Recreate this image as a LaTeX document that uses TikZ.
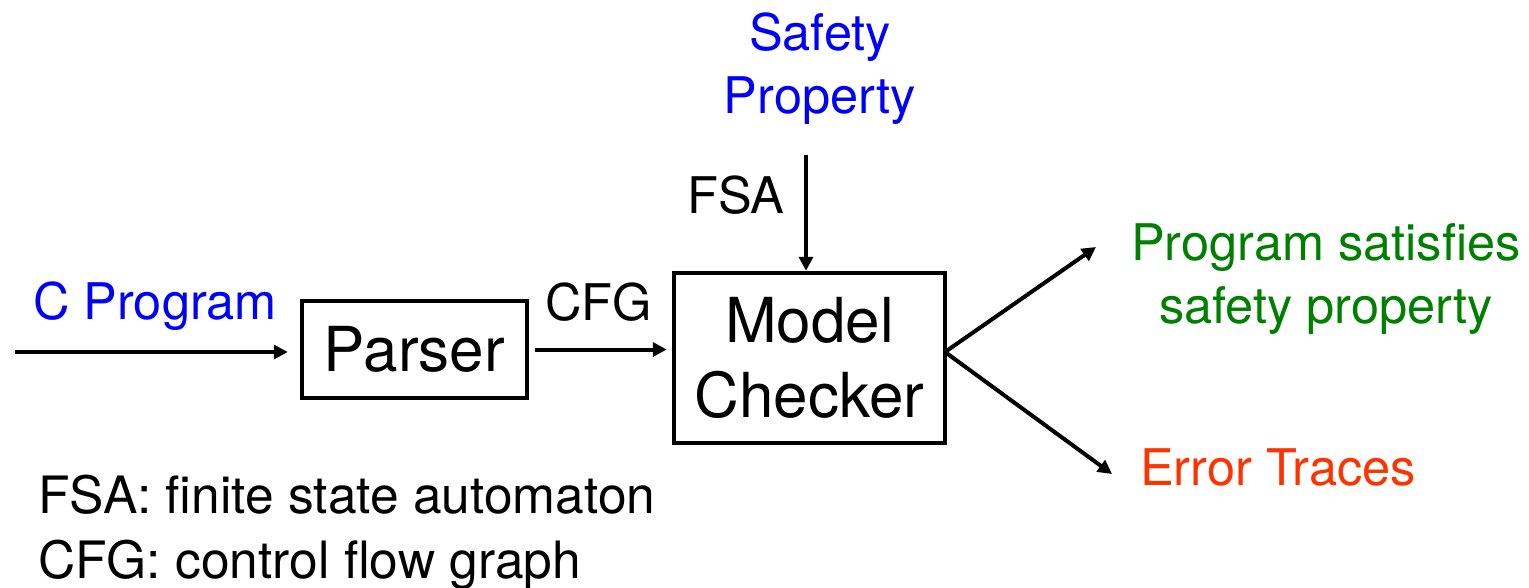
\documentclass[tikz,border=0pt]{standalone}
\usepackage{fontspec}
\setmainfont{TeX Gyre Heros}
\usetikzlibrary{arrows.meta}

\definecolor{inblue}{RGB}{0,0,255}
\definecolor{okgreen}{RGB}{0,128,0}
\definecolor{errred}{RGB}{255,51,0}

\tikzset{
  label text/.style={inner sep=0pt, font=\fontsize{50.5}{63}\selectfont},
  legend text/.style={inner sep=0pt, font=\fontsize{51.5}{63}\selectfont},
  stagebox/.style={draw, line width=4.5pt, inner sep=0pt,
    font=\fontsize{62}{75}\selectfont, align=center},
  flow/.style={line width=4pt, -{Triangle[length=14pt,width=14pt]}},
}

\begin{document}
\begin{tikzpicture}[x=1pt,y=-1pt]
  \useasboundingbox (0,0) rectangle (1529,587);

  % processing stages
  \node[stagebox, minimum width=225pt, minimum height=97pt] (parser) at (414.5,349.5) {Parser};
  \node[stagebox, minimum width=271pt, minimum height=170pt] (checker) at (809.5,358) {Model\\Checker};

  % inputs (base anchor of a two-line node sits on its last line)
  \node[label text, anchor=base west, text=inblue] (cprog) at (33,319) {C Program};
  \node[label text, anchor=base, align=center, text=inblue] (safety) at (820,113) {Safety\\Property};

  % edge labels
  \node[label text, anchor=base west] (cfg) at (545,320) {CFG};
  \node[label text, anchor=base west] (fsa) at (687,213) {FSA};

  % outcomes
  \node[label text, anchor=base, align=center, text=okgreen] (ok) at (1326,323) {Program satisfies\\safety property};
  \node[label text, anchor=base west, text=errred] (err) at (1140,485) {Error Traces};

  % legend
  \node[legend text, anchor=base west] (leg1) at (38,513) {FSA: finite state automaton};
  \node[legend text, anchor=base west] (leg2) at (38,578) {CFG: control flow graph};

  % connector end points
  \coordinate (src) at (15,352);
  \coordinate (fsatop) at (806,155);
  \coordinate (fork) at (945,352);
  \coordinate (okend) at (1096,247);
  \coordinate (errend) at (1112,474);

  % connectors
  \draw[flow, shorten >=12pt] (src) -- (src -| parser.west);
  \draw[flow, shorten <=6pt, shorten >=5pt] (parser.east) -- (parser.east -| checker.west);
  \draw[flow] (fsatop) -- (fsatop |- checker.north);
  \draw[flow] (fork) -- (okend);
  \draw[flow] (fork) -- (errend);
\end{tikzpicture}
\end{document}
